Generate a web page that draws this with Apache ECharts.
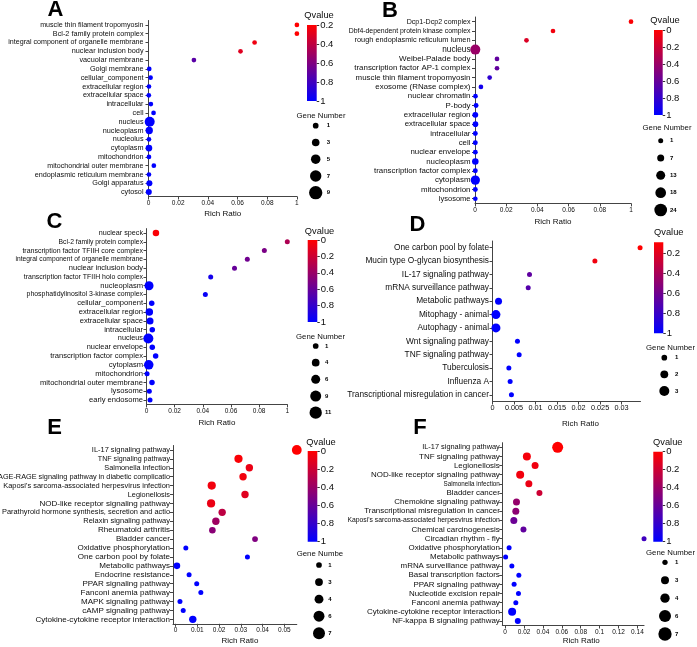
<!DOCTYPE html>
<html><head><meta charset="utf-8">
<script src="https://cdn.jsdelivr.net/npm/echarts@6/dist/echarts.min.js"></script>
<style>html,body{margin:0;padding:0;background:#fff}#c{width:697px;height:647px}</style>
</head><body><div id="c"></div>
<script>
// ---------------- DATA ----------------
const catsA = ["muscle thin filament tropomyosin","Bcl-2 family protein complex","integral component of organelle membrane","nuclear inclusion body","vacuolar membrane","Golgi membrane","cellular_component","extracellular region","extracellular space","intracellular","cell","nucleus","nucleoplasm","nucleolus","cytoplasm","mitochondrion","mitochondrial outer membrane","endoplasmic reticulum membrane","Golgi apparatus","cytosol"];
const ratioA = [0.1,0.1,0.0715,0.062,0.0306,0.0005,0.0014,0.0003,0.0002,0.0016,0.0034,0.0008,0.0005,0.0003,0.0003,0.0003,0.0036,0.0003,0.0006,0.0002];
const qA = [0.2,0.2,0.25,0.3,0.72,1,1,1,1,1,1,1,1,1,1,1,1,1,1,1];
const genesA = [1,1,1,1,1,1,1,1,1,1,1,9,5,1,4,1,1,1,3,3];
const legGenesA = [1,3,5,7,9];

const catsB = ["Dcp1-Dcp2 complex","Dbf4-dependent protein kinase complex","rough endoplasmic reticulum lumen","nucleus","Weibel-Palade body","transcription factor AP-1 complex","muscle thin filament tropomyosin","exosome (RNase complex)","nuclear chromatin","P-body","extracellular region","extracellular space","intracellular","cell","nuclear envelope","nucleoplasm","transcription factor complex","cytoplasm","mitochondrion","lysosome"];
const ratioB = [0.1,0.05,0.033,0.0002,0.0141,0.0141,0.0094,0.0038,0.0003,0.0007,0.0002,0.0003,0.0002,0.0002,0.0002,0.0002,0.0002,0.0002,0.0002,0.0002];
const qB = [0.02,0.05,0.14,0.4,0.62,0.62,0.82,0.93,1,1,1,1,1,1,1,1,1,1,1,1];
const genesB = [1,1,1,24,1,1,1,1,1,2,6,5,2,2,2,9,2,21,2,1];
const legGenesB = [1,7,13,18,24];

const catsC = ["nuclear speck","Bcl-2 family protein complex","transcription factor TFIIH core complex","integral component of organelle membrane","nuclear inclusion body","transcription factor TFIIH holo complex","nucleoplasm","phosphatidylinositol 3-kinase complex","cellular_component","extracellular region","extracellular space","intracellular","nucleus","nuclear envelope","transcription factor complex","cytoplasm","mitochondrion","mitochondrial outer membrane","lysosome","early endosome"];
const ratioC = [0.0067,0.1,0.0837,0.0716,0.0625,0.0456,0.0018,0.0418,0.0037,0.002,0.0025,0.0041,0.0013,0.0041,0.0065,0.0016,0.0004,0.0039,0.002,0.0025];
const qC = [0.02,0.32,0.52,0.56,0.6,0.92,1,0.97,1,1,1,1,1,1,1,1,1,1,1,1];
const genesC = [4,1,1,1,1,1,9,1,2,6,5,2,11,2,2,10,1,2,1,1];
const legGenesC = [1,4,6,9,11];

const catsD = ["One carbon pool by folate","Mucin type O-glycan biosynthesis","IL-17 signaling pathway","mRNA surveillance pathway","Metabolic pathways","Mitophagy - animal","Autophagy - animal","Wnt signaling pathway","TNF signaling pathway","Tuberculosis","Influenza A","Transcriptional misregulation in cancer"];
const ratioD = [0.0343,0.0238,0.0086,0.0083,0.0014,0.0008,0.0008,0.0058,0.0062,0.0038,0.0041,0.0044];
const qD = [0.09,0.14,0.66,0.7,1,1,1,1,1,1,1,1];
const genesD = [1,1,1,1,2,3,3,1,1,1,1,1];
const legGenesD = [1,2,3];

const catsE = ["IL-17 signaling pathway","TNF signaling pathway","Salmonella infection","AGE-RAGE signaling pathway in diabetic complicatio","Kaposi's sarcoma-associated herpesvirus infection","Legionellosis","NOD-like receptor signaling pathway","Parathyroid hormone synthesis, secretion and actio","Relaxin signaling pathway","Rheumatoid arthritis","Bladder cancer","Oxidative phosphorylation","One carbon pool by folate","Metabolic pathways","Endocrine resistance","PPAR signaling pathway","Fanconi anemia pathway","MAPK signaling pathway","cAMP signaling pathway","Cytokine-cytokine receptor interaction"];
const ratioE = [0.0557,0.0289,0.0339,0.031,0.0166,0.0319,0.0163,0.0214,0.0185,0.0169,0.0365,0.0047,0.033,0.0006,0.0062,0.0097,0.0116,0.002,0.0035,0.0079];
const qE = [0,0.02,0.08,0.05,0.05,0.12,0.08,0.26,0.38,0.46,0.5,1,1,1,1,1,1,1,1,1];
const genesE = [7,5,4,4,5,4,5,4,4,3,2,1,1,3,1,1,1,1,1,4];
const legGenesE = [1,3,4,6,7];

const catsF = ["IL-17 signaling pathway","TNF signaling pathway","Legionellosis","NOD-like receptor signaling pathway","Salmonella infection","Bladder cancer","Chemokine signaling pathway","Transcriptional misregulation in cancer","Kaposi's sarcoma-associated herpesvirus infection","Chemical carcinogenesis","Circadian rhythm - fly","Oxidative phosphorylation","Metabolic pathways","mRNA surveillance pathway","Basal transcription factors","PPAR signaling pathway","Nucleotide excision repair","Fanconi anemia pathway","Cytokine-cytokine receptor interaction","NF-kappa B signaling pathway"];
const ratioF = [0.0556,0.023,0.0317,0.0159,0.0251,0.0363,0.012,0.0113,0.0092,0.0194,0.147,0.0042,0.0005,0.0071,0.0145,0.0095,0.0141,0.0113,0.0074,0.0134];
const qF = [0,0.04,0.06,0.05,0.08,0.2,0.42,0.45,0.58,0.62,0.75,1,1,1,1,1,1,1,1,1];
const genesF = [7,4,3,4,3,2,3,3,3,2,1,1,1,1,1,1,1,1,4,2];
const legGenesF = [1,3,4,6,7];

const xTicksABC = [0,0.02,0.04,0.06,0.08,0.1];
const xTicksD = [0,0.005,0.01,0.015,0.02,0.025,0.03];
const xTicksE = [0,0.01,0.02,0.03,0.04,0.05];
const xTicksF = [0,0.02,0.04,0.06,0.08,0.1,0.12,0.14];
const qTicksFrom02 = [0.2,0.4,0.6,0.8,1];
const qTicksFrom0 = [0,0.2,0.4,0.6,0.8,1];

// ---------------- STYLE / LAYOUT ----------------
const FONT = "'Liberation Sans', Arial, Helvetica, sans-serif";
const TXT = '#0d0d0d';
// per-label font sizes (the source figure draws some labels smaller / larger)
const labelSizeA = {"muscle thin filament tropomyosin":7.1,"integral component of organelle membrane":7.1,"mitochondrial outer membrane":7.1};
const labelSizeB = {"Dcp1-Dcp2 complex":7.1,"Dbf4-dependent protein kinase complex":6.9,"rough endoplasmic reticulum lumen":7.35,"nucleus":8.2,"lysosome":7.5,"Weibel-Palade body":8.0};
const labelSizeC = {"nuclear speck":7.2,"Bcl-2 family protein complex":6.75,"transcription factor TFIIH core complex":7.0,"integral component of organelle membrane":6.7,"transcription factor TFIIH holo complex":6.95,"phosphatidylinositol 3-kinase complex":6.95,"nucleus":7.3,"nuclear inclusion body":7.5,"nuclear envelope":7.4};
const labelSizeD = {};
const labelSizeE = {"IL-17 signaling pathway":7.45,"TNF signaling pathway":7.1,"Salmonella infection":7.35,"AGE-RAGE signaling pathway in diabetic complicatio":7.3,"Kaposi's sarcoma-associated herpesvirus infection":7.45,"Legionellosis":7.3,"Parathyroid hormone synthesis, secretion and actio":7.4,"Relaxin signaling pathway":7.5};
const labelSizeF = {"IL-17 signaling pathway":7.4,"Kaposi's sarcoma-associated herpesvirus infection":6.8,"Salmonella infection":6.3};

const panels = [
 {letter:'A', cats:catsA, ratio:ratioA, q:qA, genes:genesA, leg:legGenesA, xTicks:xTicksABC, qTicks:qTicksFrom02, oneAtTop:true, lsz:labelSizeA,
  grid:[148.5,20.5,148.4,176], xMin:0, xMax:0.1, yFont:7.25, yMargin:5, xFont:6.5, nameGap:13.5, nameShift:0,
  cb:[307,25,9.7,76], qMin:0.2, qMax:1, qTitle:[319,15.5], gTitle:[321,115.8,'center','Gene Number'], lg:[315.7,125.7,192.7,326.7],
  lpos:[55.5,9.5], dSize:[4.7,10], lSize:[5.7,13.3]},
 {letter:'B', cats:catsB, ratio:ratioB, q:qB, genes:genesB, leg:legGenesB, xTicks:xTicksABC, qTicks:qTicksFrom0, oneAtTop:true, lsz:labelSizeB,
  grid:[475,17,156,186.4], xMin:0, xMax:0.1, yFont:7.9, yMargin:4.5, xFont:6.5, nameGap:14, nameShift:0,
  cb:[654,30,8.7,85], qMin:0, qMax:1, qTitle:[665,20.3], gTitle:[667,128.3,'center','Gene Number'], lg:[660.7,140.7,210,670],
  lpos:[390,10.5], dSize:[4.7,10], lSize:[5,12.7]},
 {letter:'C', cats:catsC, ratio:ratioC, q:qC, genes:genesC, leg:legGenesC, xTicks:xTicksABC, qTicks:qTicksFrom0, oneAtTop:true, lsz:labelSizeC,
  grid:[146.5,228.6,140.8,175.8], xMin:0, xMax:0.1, yFont:7.6, yMargin:3.5, xFont:6.5, nameGap:14, nameShift:0,
  cb:[307.7,240,9.6,82], qMin:0, qMax:1, qTitle:[319.5,231.3], gTitle:[320.5,336.8,'center','Gene Number'], lg:[315.7,346,412.7,325],
  lpos:[54.5,222], dSize:[5,10], lSize:[5.7,12.3]},
 {letter:'D', cats:catsD, ratio:ratioD, q:qD, genes:genesD, leg:legGenesD, xTicks:xTicksD, qTicks:qTicksFrom02, oneAtTop:false, lsz:labelSizeD,
  grid:[492.5,241,148,160.5], xMin:0, xMax:0.0344, yFont:8.3, yMargin:3.5, xFont:7.3, nameGap:18, nameShift:14,
  cb:[654,242.3,9.3,91], qMin:0.09, qMax:1, qTitle:[668.8,232], gTitle:[670.5,347.5,'center','Gene Number'], lg:[664.3,357.7,391,675],
  lpos:[417.5,225], dSize:[5,9], lSize:[5.7,10]},
 {letter:'E', cats:catsE, ratio:ratioE, q:qE, genes:genesE, leg:legGenesE, xTicks:xTicksE, qTicks:qTicksFrom0, oneAtTop:false, lsz:labelSizeE,
  grid:[173,445.5,123.8,178.3], xMin:-0.0012, xMax:0.0557, yFont:8.05, yMargin:3, xFont:6.5, nameGap:13.4, nameShift:5,
  cb:[307.7,451,9.6,90.7], qMin:0, qMax:1, qTitle:[321,442], gTitle:[296.7,554.2,'left','Gene Numbe'], lg:[319,565,633.3,328.3],
  lpos:[54.5,428], dSize:[5,9.8], lSize:[5.7,12]},
 {letter:'F', cats:catsF, ratio:ratioF, q:qF, genes:genesF, leg:legGenesF, xTicks:xTicksF, qTicks:qTicksFrom0, oneAtTop:false, lsz:labelSizeF,
  grid:[502.3,442.7,141.75,182.8], xMin:-0.003, xMax:0.147, yFont:7.95, yMargin:2.5, xFont:6.5, nameGap:11.7, nameShift:8,
  cb:[653.3,451.7,9.4,90], qMin:0, qMax:1, qTitle:[667.8,442], gTitle:[670.5,552.5,'center','Gene Number'], lg:[665,562.3,634,675],
  lpos:[420,428], dSize:[5,11], lSize:[5.3,13.3]}
];

const AX = '#444';
const option = {animation:false, textStyle:{fontFamily:FONT}, grid:[], xAxis:[], yAxis:[], series:[], visualMap:[], graphic:[]};

panels.forEach((p, i) => {
  const gmax = Math.max.apply(null, p.leg);
  const dSize = n => p.dSize[0] + (p.dSize[1]-p.dSize[0])*(n-1)/(gmax-1);
  const lSize = n => p.lSize[0] + (p.lSize[1]-p.lSize[0])*(n-1)/(gmax-1);
  const xFmt = v => (p.oneAtTop && v >= 0.0999) ? '1' : String(+v.toFixed(4));

  // rich styles for per-label font sizes
  const rich = {};
  const keyOf = lab => {
    const s = (p.lsz[lab] !== undefined) ? p.lsz[lab] : p.yFont;
    const k = 's' + Math.round(s*100);
    if (!rich[k]) rich[k] = {fontSize:s, fontFamily:FONT, color:TXT};
    return k;
  };
  p.cats.forEach(keyOf);

  // main plot
  const gi = option.grid.length;
  option.grid.push({left:p.grid[0], top:p.grid[1], width:p.grid[2], height:p.grid[3], containLabel:false, outerBoundsMode:'none'});
  option.xAxis.push({gridIndex:gi, type:'value', min:p.xMin, max:p.xMax,
    name:'Rich Ratio', nameLocation:'middle', nameGap:p.nameGap, nameMoveOverlap:false,
    nameTextStyle:{fontSize:8, color:TXT, fontFamily:FONT, padding:[0,0,0,2*p.nameShift]},
    axisLine:{show:true, onZero:false, lineStyle:{color:AX, width:1}},
    axisTick:{show:true, length:3, customValues:p.xTicks, lineStyle:{color:AX}},
    axisLabel:{customValues:p.xTicks, formatter:xFmt, fontSize:p.xFont, margin:3, color:TXT, fontFamily:FONT, hideOverlap:false},
    splitLine:{show:false}});
  option.yAxis.push({gridIndex:gi, type:'category', data:p.cats, inverse:true,
    axisLine:{show:true, onZero:false, lineStyle:{color:AX, width:1}},
    axisTick:{show:true, alignWithLabel:true, interval:0, length:3, lineStyle:{color:AX}},
    axisLabel:{interval:0, fontSize:p.yFont, margin:p.yMargin, color:TXT, fontFamily:FONT, hideOverlap:false,
      formatter: v => '{' + keyOf(v) + '|' + v + '}', rich:rich},
    splitLine:{show:false}});
  const si = option.series.length;
  option.series.push({type:'scatter', xAxisIndex:gi, yAxisIndex:gi, clip:false,
    data:p.cats.map((c,k) => [p.ratio[k], c, p.q[k], p.genes[k]]),
    symbolSize: v => dSize(v[3]), itemStyle:{opacity:1}});
  option.visualMap.push({type:'continuous', show:false, seriesIndex:si, dimension:2, min:p.qMin, max:p.qMax,
    inRange:{color:['#ff0000','#0000ff']}});

  // colour bar
  const cg = option.grid.length;
  option.grid.push({left:p.cb[0], top:p.cb[1], width:p.cb[2], height:p.cb[3], containLabel:false, outerBoundsMode:'none'});
  option.xAxis.push({gridIndex:cg, type:'category', data:['Qvalue'], show:false});
  option.yAxis.push({gridIndex:cg, type:'value', min:p.qMin, max:p.qMax, inverse:true, position:'right',
    axisLine:{show:false, onZero:false},
    axisTick:{show:true, length:2.5, customValues:p.qTicks, lineStyle:{color:'#333'}},
    axisLabel:{customValues:p.qTicks, fontSize:9.5, margin:3.5, color:TXT, fontFamily:FONT, formatter:v => String(+v.toFixed(2)), hideOverlap:false},
    splitLine:{show:false}});
  option.series.push({type:'bar', xAxisIndex:cg, yAxisIndex:cg, stack:'cb'+i, barWidth:'100%', silent:true,
    data:[p.qMin], itemStyle:{color:'rgba(0,0,0,0)'}});
  option.series.push({type:'bar', xAxisIndex:cg, yAxisIndex:cg, stack:'cb'+i, barWidth:'100%', silent:true,
    data:[p.qMax - p.qMin],
    itemStyle:{color:new echarts.graphic.LinearGradient(0,0,0,1,[{offset:0,color:'#ff0000'},{offset:1,color:'#0000ff'}])}});

  // size legend
  const lg = option.grid.length;
  const n = p.leg.length;
  const sp = (p.lg[2]-p.lg[1])/(n-1);
  option.grid.push({left:p.lg[0]-8, top:p.lg[1]-sp/2, width:16, height:sp*n, containLabel:false, outerBoundsMode:'none'});
  option.xAxis.push({gridIndex:lg, type:'value', min:-1, max:1, show:false});
  option.yAxis.push({gridIndex:lg, type:'category', data:p.leg.map(String), inverse:true, position:'right',
    axisLine:{show:false}, axisTick:{show:false}, splitLine:{show:false},
    axisLabel:{interval:0, fontSize:6, fontWeight:'bold', color:'#000', fontFamily:FONT, margin:p.lg[3]-(p.lg[0]+8)}});
  option.series.push({type:'scatter', xAxisIndex:lg, yAxisIndex:lg, clip:false, silent:true,
    data:p.leg.map(g => [0, String(g), g]), symbolSize: v => lSize(v[2]), itemStyle:{color:'#000', opacity:1}});

  // texts
  option.graphic.push({type:'text', x:p.lpos[0], y:p.lpos[1], silent:true,
    style:{text:p.letter, fontSize:22, fontWeight:'bold', fontFamily:FONT, fill:'#000', align:'center', verticalAlign:'middle'}});
  option.graphic.push({type:'text', x:p.qTitle[0], y:p.qTitle[1], silent:true,
    style:{text:'Qvalue', fontSize:9.3, fontFamily:FONT, fill:TXT, align:'center', verticalAlign:'middle'}});
  option.graphic.push({type:'text', x:p.gTitle[0], y:p.gTitle[1], silent:true,
    style:{text:p.gTitle[3], fontSize:7.8, fontFamily:FONT, fill:TXT, align:p.gTitle[2], verticalAlign:'middle'}});
});

const chart = echarts.init(document.getElementById('c'), null, {renderer:'canvas', width:697, height:647});
chart.setOption(option);
</script>
</body></html>
